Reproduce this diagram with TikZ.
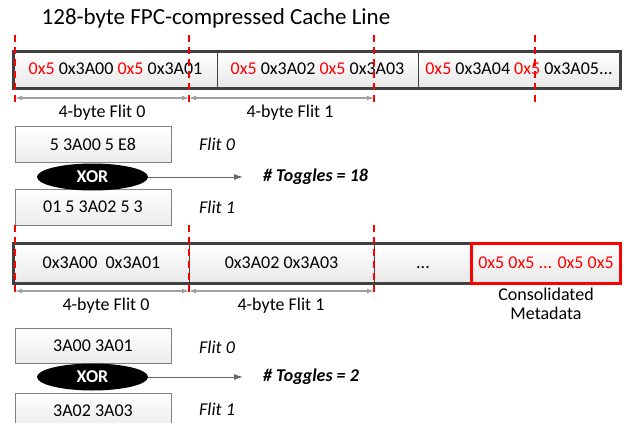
\documentclass[tikz,border=0pt]{standalone}
\usepackage{fontspec}
\setmainfont{Carlito}
\usetikzlibrary{shapes.geometric,arrows.meta}
\definecolor{frame}{HTML}{404040}
\definecolor{dimgray}{HTML}{A0A0A0}
\begin{document}
\begin{tikzpicture}[x=1pt,y=-1pt,
  txt/.style={font=\fontsize{18}{21}\selectfont, inner sep=0pt},
  cell/.style={txt, draw=frame, line width=0.8pt, top color=white, bottom color=gray!18, minimum height=#1, anchor=center, text height=12.5pt, text depth=3.5pt},
  cell/.default=36pt,
  flitbox/.style={txt, draw=gray, line width=0.8pt, top color=white, bottom color=gray!15, minimum width=156pt, minimum height=36pt},
  xorell/.style={ellipse, fill=black, text=white, font=\fontsize{18}{21}\selectfont\bfseries, minimum width=111pt, minimum height=27pt, inner sep=0pt},
  outer/.style={draw=frame, line width=3pt},
  reddash/.style={red, line width=1.4pt, dash pattern=on 7pt off 5pt},
  dimline/.style={dimgray, line width=1.2pt, {Latex[length=7pt,width=5pt]}-{Latex[length=7pt,width=5pt]}},
  xorarrow/.style={draw=frame!80, line width=1pt, -{Latex[length=9pt,width=6pt]}},
  lbl/.style={txt, anchor=west, font=\fontsize{18}{21}\selectfont\itshape},
  tog/.style={txt, anchor=west, font=\fontsize{18}{21}\selectfont\bfseries\itshape}
]
\useasboundingbox (0,0) rectangle (635,423);

% title
\node[txt, font=\fontsize{23}{27}\selectfont] (title) at (216,18) {128-byte FPC-compressed Cache Line};

% ---------- top cache line ----------
\node[cell, minimum width=203pt] (c1) at (115.5,70) {\textcolor{red}{0x5} 0x3A00 \textcolor{red}{0x5} 0x3A01};
\node[cell, minimum width=201pt] (c2) at (317.5,70) {\textcolor{red}{0x5} 0x3A02 \textcolor{red}{0x5} 0x3A03};
\node[cell, minimum width=202pt] (c3) at (519,70) {\textcolor{red}{0x5} 0x3A04 \textcolor{red}{0x5} 0x3A05...};
\draw[outer] (c1.north west) rectangle (c3.south east);

% red dashed markers (top)
\foreach \n/\x in {a/15,b/189,c/374,d/535}{
  \coordinate (ta\n) at (\x,35);
  \coordinate (tb\n) at (\x,103);
  \draw[reddash] (ta\n) -- (tb\n);
}
\coordinate (da1) at (15,98);
\coordinate (da2) at (189,98);
\coordinate (da3) at (374,98);
\draw[dimline] (da1) -- (da2);
\draw[dimline] (da2) -- (da3);
\node[txt] (l0) at (102,113) {4-byte Flit 0};
\node[txt] (l1) at (290,113) {4-byte Flit 1};

% flits (top)
\node[flitbox] (f0) at (93,144.5) {5 3A00 5 E8};
\node[flitbox] (f1) at (93,207) {01 5 3A02 5 3};
\node[xorell] (x1) at (92.5,177) {XOR};
\coordinate (x1e) at (243,177);
\draw[xorarrow] (x1.east) -- (x1e);
\node[tog] (t1) at (263,177) {\# Toggles = 18};
\node[lbl] (fl0) at (199,144) {Flit 0};
\node[lbl] (fl1) at (199,207) {Flit 1};

% ---------- second cache line ----------
\node[cell=39pt, minimum width=175pt] (d1) at (101.5,263.5) {0x3A00\ \ 0x3A01};
\node[cell=39pt, minimum width=185pt] (d2) at (281.5,263.5) {0x3A02 0x3A03};
\node[cell=39pt, minimum width=98pt] (d3) at (423,263.5) {...};
\node[cell=39pt, minimum width=148pt, text=red] (d4) at (546,263.5) {0x5 0x5 ... 0x5 0x5};
\draw[outer] (d1.north west) rectangle (d4.south east);
\draw[red, line width=3pt] (d4.north west) rectangle (d4.south east);

\foreach \n/\x in {a/15,b/189,c/374}{
  \coordinate (sa\n) at (\x,225);
  \coordinate (sb\n) at (\x,297);
  \draw[reddash] (sa\n) -- (sb\n);
}
\coordinate (db1) at (15,291);
\coordinate (db2) at (189,291);
\coordinate (db3) at (374,291);
\draw[dimline] (db1) -- (db2);
\draw[dimline] (db2) -- (db3);
\node[txt] (m0) at (106,306) {4-byte Flit 0};
\node[txt] (m1) at (281,306) {4-byte Flit 1};
\node[txt, align=center, font=\fontsize{18}{19}\selectfont] (cm) at (546,303.5) {Consolidated\\Metadata};

% flits (bottom)
\node[flitbox, minimum height=35pt] (g0) at (93,345.5) {3A00 3A01};
\node[flitbox, minimum height=35pt] (g1) at (93,410.5) {3A02 3A03};
\node[xorell] (x2) at (92.5,377) {XOR};
\coordinate (x2e) at (243,377);
\draw[xorarrow] (x2.east) -- (x2e);
\node[tog] (t2) at (263,377) {\# Toggles = 2};
\node[lbl] (gl0) at (199,347) {Flit 0};
\node[lbl] (gl1) at (199,409) {Flit 1};
\end{tikzpicture}
\end{document}
